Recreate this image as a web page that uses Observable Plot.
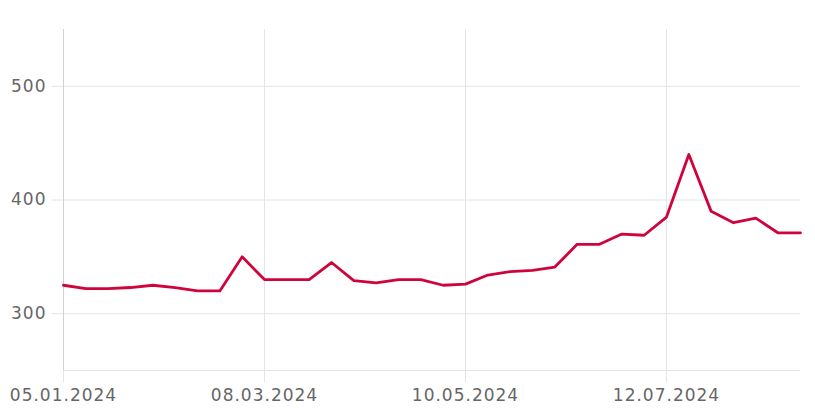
<!DOCTYPE html>
<html><head><meta charset="utf-8">
<script src="https://cdn.jsdelivr.net/npm/d3@7"></script>
<script src="https://cdn.jsdelivr.net/npm/@observablehq/plot@0.6"></script>
<style>body{margin:0;background:#fff} #chart svg{display:block}</style>
</head><body><div id="chart"></div>
<script>
const dates = ["2024-01-05","2024-01-12","2024-01-19","2024-01-26","2024-02-02","2024-02-09","2024-02-16","2024-02-23","2024-03-01","2024-03-08","2024-03-15","2024-03-22","2024-03-29","2024-04-05","2024-04-12","2024-04-19","2024-04-26","2024-05-03","2024-05-10","2024-05-17","2024-05-24","2024-05-31","2024-06-07","2024-06-14","2024-06-21","2024-06-28","2024-07-05","2024-07-12","2024-07-19","2024-07-26","2024-08-02","2024-08-09","2024-08-16","2024-08-23"];
const values = [325,322,322,323,325,323,320,320,350,330,330,330,345,329,327,330,330,325,326,334,337,338,341,361,361,370,369,385,440,390,380,384,371,371];
const xTickLabels = ["2024-01-05","2024-03-08","2024-05-10","2024-07-12"];
const yTicks = [300,400,500];

const parse = d3.utcParse("%Y-%m-%d");
const data = dates.map((d,i)=>({date: parse(d), value: values[i]}));
const xTicks = xTickLabels.map(parse);
const gridColor = "#e2e4e7";
const textColor = "#666";

const chart = Plot.plot({
  width: 815, height: 415,
  marginTop: 29, marginRight: 15, marginBottom: 45, marginLeft: 63,
  style: {fontFamily: "DejaVu Sans", fontSize: "17px", color: textColor, letterSpacing: "1px", background: "#fff"},
  x: {type: "utc", domain: [data[0].date, data[data.length-1].date]},
  y: {domain: [250, 550]},
  marks: [
    Plot.gridY(yTicks, {stroke: gridColor, strokeOpacity: 1}),
    Plot.gridX(xTicks, {stroke: gridColor, strokeOpacity: 1}),
    Plot.ruleY([250], {stroke: gridColor, strokeOpacity: 1}),
    Plot.ruleX([data[0].date], {stroke: "#cfd1d4"}),
    Plot.axisY(yTicks, {tickSize: 11, tickPadding: 6, stroke: gridColor, strokeOpacity: 1, fill: textColor, label: null}),
    Plot.axisX(xTicks, {tickSize: 12, tickPadding: 6, stroke: gridColor, strokeOpacity: 1, fill: textColor, label: null, tickFormat: d3.utcFormat("%d.%m.%Y")}),
    Plot.lineY(data, {x: "date", y: "value", stroke: "#d0043c", strokeWidth: 2.8})
  ]
});
document.getElementById("chart").append(chart);
</script>
</body></html>
